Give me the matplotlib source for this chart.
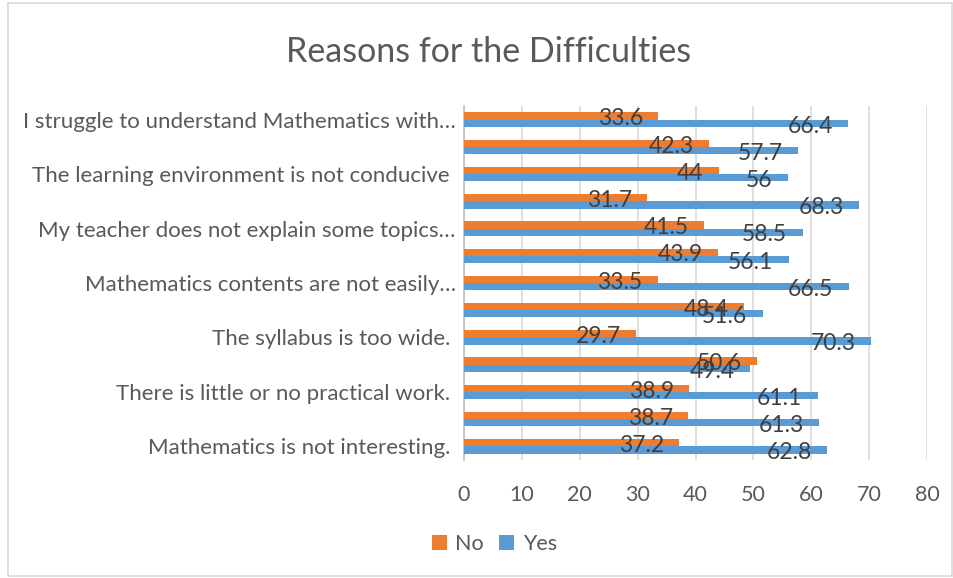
import matplotlib.pyplot as plt
import matplotlib.patches as mpatches
import numpy as np

plt.rcParams['font.family'] = ['Lato', 'DejaVu Sans']

# bottom to top; empty names are categories whose labels Excel skipped
categories = ['Mathematics is not interesting. ', '',
              'There is little or no practical work. ', '',
              'The syllabus is too wide. ', '',
              'Mathematics contents are not easily…', '',
              'My teacher does not explain some topics…', '',
              'The learning environment is not conducive ', '',
              'I struggle to understand Mathematics with…']
no_vals = [37.2, 38.7, 38.9, 50.6, 29.7, 48.4, 33.5, 43.9, 41.5, 31.7, 44, 42.3, 33.6]
yes_vals = [62.8, 61.3, 61.1, 49.4, 70.3, 51.6, 66.5, 56.1, 58.5, 68.3, 56, 57.7, 66.4]
xticks = [0, 10, 20, 30, 40, 50, 60, 70, 80]

orange = '#ED7D31'
blue = '#5B9BD5'
txt = '#595959'

fig = plt.figure(figsize=(9.54, 5.78), dpi=100)
ax = fig.add_axes([0.4864, 0.2042, 0.4853, 0.6124])

y = np.arange(len(categories))
h = 0.265
b_no = ax.barh(y + h / 2, no_vals, height=h, color=orange, label='No', zorder=3)
b_yes = ax.barh(y - h / 2, yes_vals, height=h, color=blue, label='Yes', zorder=3)

for bars, vals in [(b_no, no_vals), (b_yes, yes_vals)]:
    for bar, v in zip(bars, vals):
        cy = bar.get_y() + bar.get_height() / 2
        ax.annotate(f'{v:g}', (v, cy), xytext=(-11, -2), textcoords='offset points',
                    ha='right', va='center', fontsize=16.5, color='#404040', zorder=4)

ax.set_xlim(0, 80)
ax.set_ylim(-0.5, len(categories) - 0.5)
ax.set_xticks(xticks)
ax.set_xticklabels([str(t) for t in xticks])
ax.set_yticks(y)
ax.set_yticklabels(categories)
ax.tick_params(axis='x', length=0, pad=18, labelsize=15.5, labelcolor=txt)
ax.tick_params(axis='y', length=0, pad=6, labelsize=16, labelcolor=txt)
ax.grid(axis='x', color='#D9D9D9', linewidth=1.2, zorder=0)
for s in ['top', 'right', 'bottom']:
    ax.spines[s].set_visible(False)
ax.spines['left'].set_color('#BFBFBF')
ax.spines['left'].set_linewidth(1.2)

fig.text(0.512, 0.91, 'Reasons for the Difficulties', ha='center', va='center',
         fontsize=24.5, color=txt)

leg = fig.legend(handles=[b_no, b_yes], loc='center', bbox_to_anchor=(0.518, 0.058),
                 ncol=2, frameon=False, fontsize=15.5, handlelength=0.7, handleheight=0.7,
                 handletextpad=0.4, columnspacing=0.7)
for t in leg.get_texts():
    t.set_color(txt)

fig.patches.append(mpatches.Rectangle((0.008, 0.004), 0.99, 0.99, transform=fig.transFigure,
                                      fill=False, edgecolor='#D9D9D9', linewidth=1.2))

fig.savefig('out.png', dpi=100)
